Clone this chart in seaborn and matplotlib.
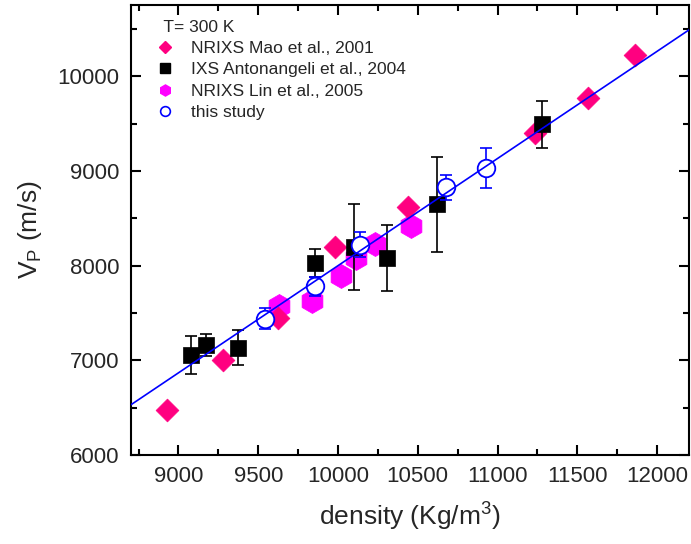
import matplotlib
matplotlib.use("Agg")
import matplotlib.pyplot as plt
from matplotlib.lines import Line2D
from matplotlib.ticker import MultipleLocator
import seaborn as sns

# NRIXS Mao et al., 2001
mao_rho = [8930, 9280, 9625, 9980, 10440, 11235, 11565, 11860]
mao_vp = [6480, 7000, 7450, 8195, 8620, 9400, 9765, 10220]

# IXS Antonangeli et al., 2004
ant_rho = [9080, 9170, 9375, 9855, 10100, 10310, 10620, 11280]
ant_vp = [7055, 7160, 7135, 8030, 8195, 8080, 8645, 9490]
ant_err = [200, 120, 180, 150, 450, 350, 500, 250]

# NRIXS Lin et al., 2005
lin_rho = [9630, 9835, 10020, 10110, 10235, 10460]
lin_vp = [7570, 7630, 7890, 8085, 8230, 8415]

# this study
our_rho = [9540, 9855, 10140, 10675, 10925]
our_vp = [7440, 7780, 8220, 8825, 9030]
our_err = [110, 100, 130, 135, 210]

# fitted line (ends read at the axes edges)
fit_rho = [8700, 12200]
fit_vp = [6528, 10488]

sns.set_style("ticks")
plt.rcParams["font.family"] = ["Liberation Sans", "DejaVu Sans"]
plt.rcParams["mathtext.fontset"] = "custom"
plt.rcParams["mathtext.rm"] = "Liberation Sans"
plt.rcParams["mathtext.it"] = "Liberation Sans:italic"

fig = plt.figure(figsize=(6.91, 5.44), dpi=100)
ax = fig.add_axes([0.189, 0.1636, 0.808, 0.827])

pink = "#ff0080"
magenta = "#ff00ff"
blue = "#0000ff"

sns.scatterplot(x=lin_rho, y=lin_vp, marker="h", s=300, color=magenta,
                edgecolor=magenta, linewidth=0.5, ax=ax, zorder=2)
sns.scatterplot(x=mao_rho, y=mao_vp, marker="D", s=135, color=pink,
                edgecolor=pink, linewidth=0.5, ax=ax, zorder=3)
ax.errorbar(ant_rho, ant_vp, yerr=ant_err, fmt="none", ecolor="black",
            elinewidth=1.2, capsize=4, capthick=1.2, zorder=3)
sns.scatterplot(x=ant_rho, y=ant_vp, marker="s", s=140, color="black",
                edgecolor="black", linewidth=0.5, ax=ax, zorder=4)
ax.errorbar(our_rho, our_vp, yerr=our_err, fmt="none", ecolor=blue,
            elinewidth=1.2, capsize=4, capthick=1.2, zorder=6)
sns.scatterplot(x=our_rho, y=our_vp, marker="o", s=160, facecolor="white",
                edgecolor=blue, linewidth=1.3, ax=ax, zorder=7)
sns.lineplot(x=fit_rho, y=fit_vp, color=blue, linewidth=1.2, ax=ax, zorder=8)

ax.set_xlim(8700, 12200)
ax.set_ylim(6000, 10750)
ax.xaxis.set_major_locator(MultipleLocator(500))
ax.xaxis.set_minor_locator(MultipleLocator(250))
ax.yaxis.set_major_locator(MultipleLocator(1000))
ax.yaxis.set_minor_locator(MultipleLocator(500))
ax.tick_params(which="both", direction="in", top=True, right=True,
               width=1.5, color="black")
ax.tick_params(which="major", length=7, labelsize=16, pad=8)
ax.tick_params(which="minor", length=4)
for sp in ax.spines.values():
    sp.set_linewidth(1.5)
    sp.set_color("black")

ax.set_xlabel("density (Kg/m$^3$)", fontsize=19, labelpad=10)
ax.set_ylabel("V$_\\mathrm{P}$ (m/s)", fontsize=19, labelpad=10)

handles = [
    Line2D([], [], marker="D", color=pink, linestyle="none", markersize=6),
    Line2D([], [], marker="s", color="black", linestyle="none", markersize=7),
    Line2D([], [], marker="h", color=magenta, linestyle="none", markersize=8),
    Line2D([], [], marker="o", markerfacecolor="white", markeredgecolor=blue,
           linestyle="none", markersize=7, markeredgewidth=1.2),
]
labels = ["NRIXS Mao et al., 2001", "IXS Antonangeli et al., 2004",
          "NRIXS Lin et al., 2005", "this study"]
leg = ax.legend(handles, labels, title="  T= 300 K", loc="upper left",
                bbox_to_anchor=(0.024, 0.99), frameon=False, fontsize=12.5,
                title_fontsize=12.5, handlelength=1.2, handletextpad=0.9,
                labelspacing=0.35, borderaxespad=0.2, alignment="left")

fig.savefig("out.png", dpi=100)
